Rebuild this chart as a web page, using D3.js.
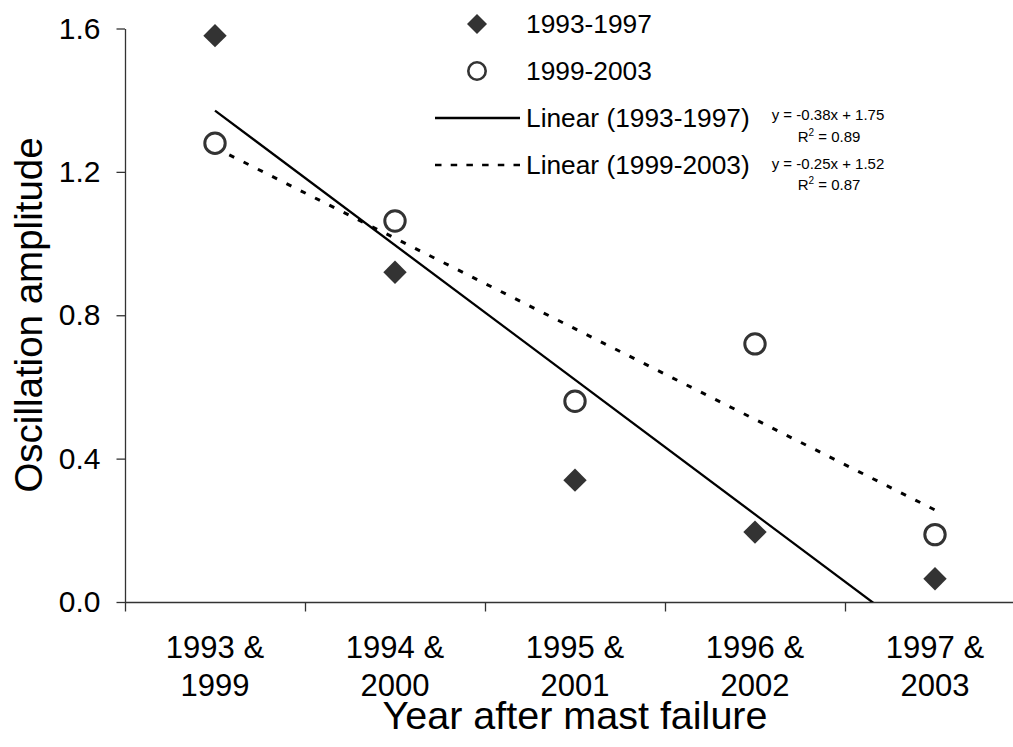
<!DOCTYPE html>
<html>
<head>
<meta charset="utf-8">
<script src="https://cdn.jsdelivr.net/npm/d3@7"></script>
<style>
  html, body { margin: 0; padding: 0; background: #fff; }
  svg { display: block; font-family: "Liberation Sans", Arial, sans-serif; }
</style>
</head>
<body>
<svg id="chart" width="1013" height="747"></svg>
<script>
// Category labels (two lines each) and the two measurement periods
const catLine1 = ["1993 &", "1994 &", "1995 &", "1996 &", "1997 &"];
const catLine2 = ["1999", "2000", "2001", "2002", "2003"];
const seriesNames = ["1993-1997", "1999-2003"];
const amp9397 = [1.58, 0.92, 0.34, 0.195, 0.065];
const amp9903 = [1.28, 1.063, 0.56, 0.72, 0.188];
const yTicks = [0, 0.4, 0.8, 1.2, 1.6];

const svg = d3.select("#chart");
const ink = "#333333";

// Scales: categories sit at integer positions 1..5, bands span 0.5..5.5
const x = d3.scaleLinear().domain([0.5, 5.5]).range([125, 1025]);
const y = d3.scaleLinear().domain([0, 1.6]).range([602, 28.5]);

// Least-squares fit on category index, as a spreadsheet trendline does
function fit(vals) {
  const xs = vals.map((_, i) => i + 1);
  const mx = d3.mean(xs), my = d3.mean(vals);
  let sxy = 0, sxx = 0, syy = 0;
  xs.forEach((xi, i) => {
    sxy += (xi - mx) * (vals[i] - my);
    sxx += (xi - mx) ** 2;
    syy += (vals[i] - my) ** 2;
  });
  const slope = sxy / sxx;
  return { slope, intercept: my - slope * mx, r2: (sxy * sxy) / (sxx * syy) };
}
const fitA = fit(amp9397);
const fitB = fit(amp9903);

// Plot-area clip so the trendline stops at the x axis
svg.append("defs").append("clipPath").attr("id", "plotClip")
  .append("rect").attr("x", 125).attr("y", 0).attr("width", 900).attr("height", 602);

// Y axis
const yAxis = svg.append("g").attr("transform", "translate(125,0)")
  .call(d3.axisLeft(y).tickValues(yTicks).tickFormat(d3.format(".1f"))
    .tickSize(8.5).tickPadding(16).tickSizeOuter(0));
yAxis.select(".domain").attr("stroke", ink).attr("stroke-width", 1.3);
yAxis.selectAll(".tick line").attr("stroke", ink).attr("stroke-width", 1.3);
yAxis.selectAll(".tick text").attr("font-size", 30).attr("fill", "#000")
  .attr("font-family", "Liberation Sans, Arial, sans-serif");

// X axis with ticks at category boundaries
const bounds = d3.range(0, 6).map(i => i + 0.5);
const xAxis = svg.append("g").attr("transform", "translate(0,602)")
  .call(d3.axisBottom(x).tickValues(bounds).tickFormat("").tickSize(9.5).tickSizeOuter(0));
xAxis.select(".domain").attr("stroke", ink).attr("stroke-width", 1.3);
xAxis.selectAll(".tick line").attr("stroke", ink).attr("stroke-width", 1.3);

// Two-line category labels
const catLabels = svg.append("g").selectAll("text")
  .data(catLine1).join("text")
  .attr("x", (d, i) => x(i + 1))
  .attr("text-anchor", "middle")
  .attr("font-size", 31)
  .attr("fill", "#000");
catLabels.append("tspan").attr("x", (d, i) => x(i + 1)).attr("y", 658).text(d => d);
catLabels.append("tspan").attr("x", (d, i) => x(i + 1)).attr("y", 696).text((d, i) => catLine2[i]);

// Axis titles
svg.append("text").attr("x", 575).attr("y", 729)
  .attr("text-anchor", "middle").attr("font-size", 39.5).attr("fill", "#000")
  .text("Year after mast failure");
svg.append("text").attr("transform", "translate(42,315) rotate(-90)")
  .attr("text-anchor", "middle").attr("font-size", 38.5).attr("fill", "#000")
  .text("Oscillation amplitude");

// Trendlines
const plot = svg.append("g").attr("clip-path", "url(#plotClip)");
const trend = d3.line().x(d => x(d[0])).y(d => y(d[1]));
plot.append("path")
  .attr("d", trend([1, 5].map(v => [v, fitA.intercept + fitA.slope * v])))
  .attr("fill", "none").attr("stroke", "#000").attr("stroke-width", 2.3);
plot.append("path")
  .attr("d", trend([1, 5].map(v => [v, fitB.intercept + fitB.slope * v])))
  .attr("fill", "none").attr("stroke", "#000").attr("stroke-width", 3)
  .attr("stroke-dasharray", "5.5,10.5");

// Markers
function diamondPath(half) {
  return `M0,${-half}L${half},0L0,${half}L${-half},0Z`;
}
svg.append("g").selectAll("circle")
  .data(amp9903).join("circle")
  .attr("cx", (d, i) => x(i + 1)).attr("cy", d => y(d))
  .attr("r", 10.2).attr("fill", "#fff").attr("stroke", ink).attr("stroke-width", 3);
svg.append("g").selectAll("path")
  .data(amp9397).join("path")
  .attr("transform", (d, i) => `translate(${x(i + 1)},${y(d)})`)
  .attr("d", diamondPath(11.7)).attr("fill", ink);

// Legend
const legend = svg.append("g");
const rowY = [24, 71, 118, 165];
const textX = 526;
const legFont = 26.3;
legend.append("path").attr("transform", `translate(477,${rowY[0]})`)
  .attr("d", diamondPath(10)).attr("fill", ink);
legend.append("circle").attr("cx", 477).attr("cy", rowY[1]).attr("r", 8.7)
  .attr("fill", "#fff").attr("stroke", ink).attr("stroke-width", 2.6);
legend.append("line").attr("x1", 435).attr("x2", 520).attr("y1", rowY[2]).attr("y2", rowY[2])
  .attr("stroke", "#000").attr("stroke-width", 2.3);
legend.append("line").attr("x1", 435).attr("x2", 521).attr("y1", rowY[3]).attr("y2", rowY[3])
  .attr("stroke", "#000").attr("stroke-width", 2.6).attr("stroke-dasharray", "6.5,9.2");
const legendLabels = [seriesNames[0], seriesNames[1],
  `Linear (${seriesNames[0]})`, `Linear (${seriesNames[1]})`];
legend.selectAll("text.lab").data(legendLabels).join("text")
  .attr("class", "lab")
  .attr("x", textX).attr("y", (d, i) => rowY[i] + legFont * 0.358)
  .attr("font-size", legFont).attr("fill", "#000")
  .text(d => d);

// Trendline equations and R² values
function eqText(f) {
  const s = f.slope.toFixed(2);
  const b = Math.abs(f.intercept).toFixed(2);
  return `y = ${s}x ${f.intercept < 0 ? "-" : "+"} ${b}`;
}
[[fitA, 120, 141.5], [fitB, 168.5, 190]].forEach(([f, y1, y2]) => {
  svg.append("text").attr("x", 828).attr("y", y1)
    .attr("text-anchor", "middle").attr("font-size", 15).attr("fill", "#000")
    .text(eqText(f));
  const t = svg.append("text").attr("x", 829).attr("y", y2)
    .attr("text-anchor", "middle").attr("font-size", 15).attr("fill", "#000");
  t.append("tspan").text("R");
  t.append("tspan").attr("font-size", 10).attr("dy", -6).text("2");
  t.append("tspan").attr("dy", 6).text(` = ${f.r2.toFixed(2)}`);
});
</script>
</body>
</html>
